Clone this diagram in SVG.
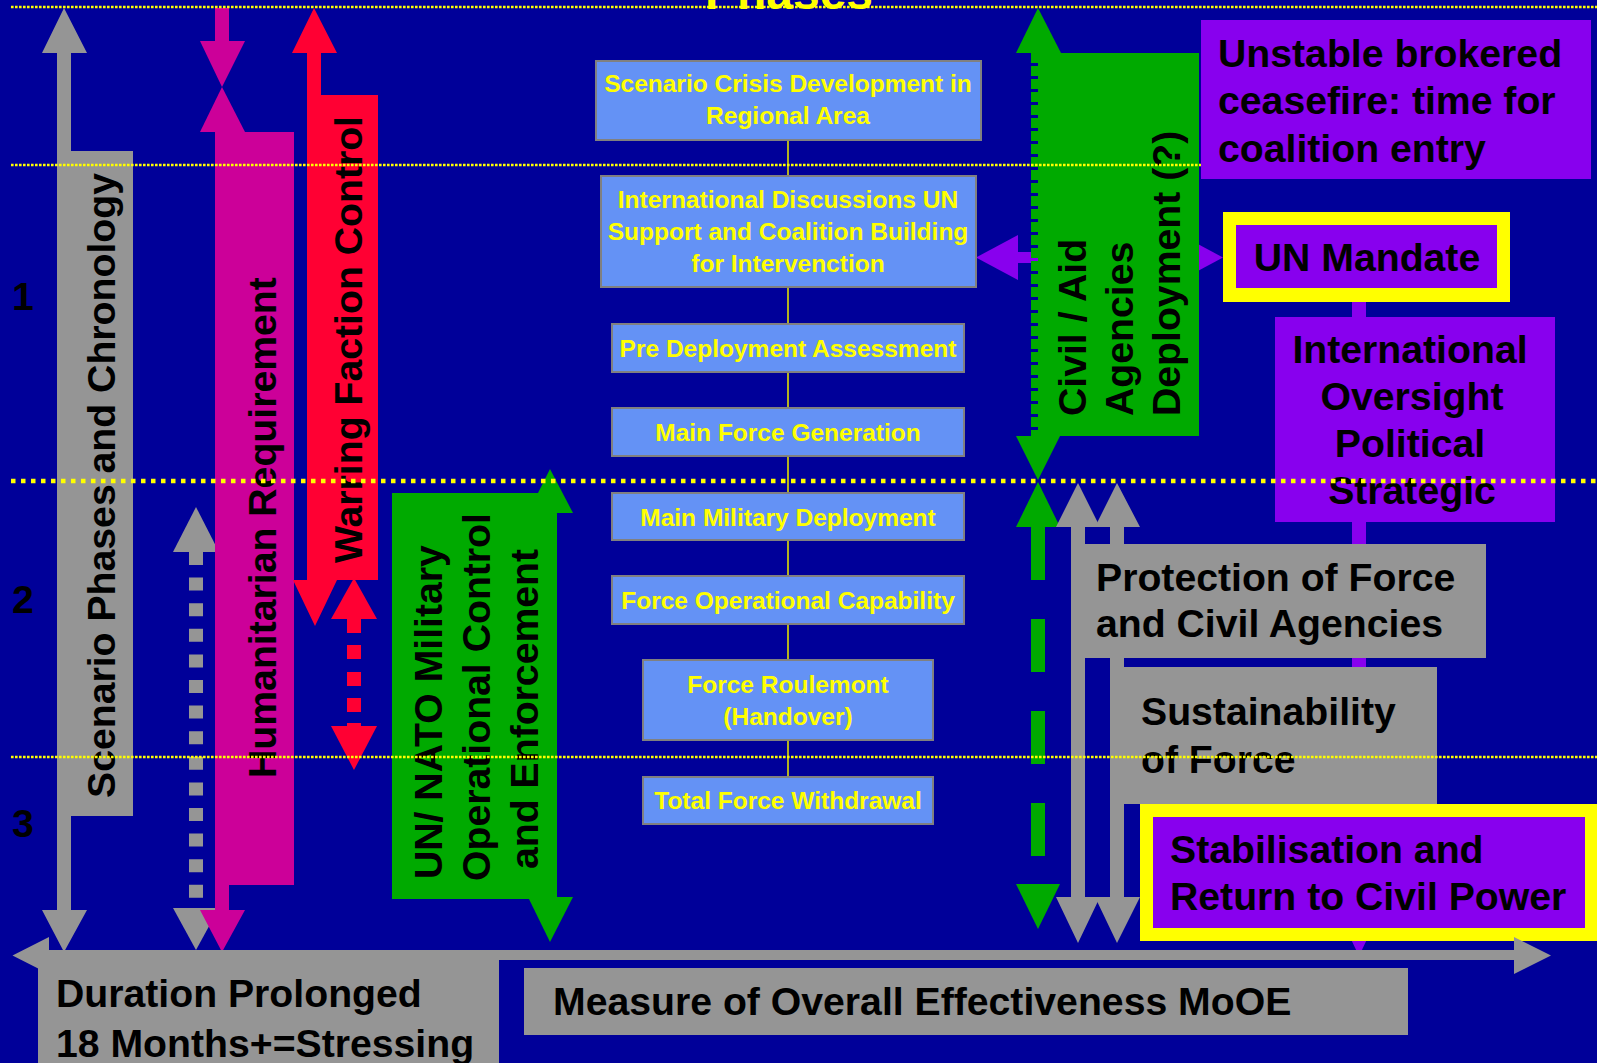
<svg xmlns="http://www.w3.org/2000/svg" width="1597" height="1063" viewBox="0 0 1597 1063">
<style>
text{font-family:"Liberation Sans",Arial,sans-serif;font-weight:bold;}
.t{font-size:39.2px;fill:#000;}
.c{font-size:24.5px;fill:#FFFF00;text-anchor:middle;}
.gray{fill:#959595;}
.mag{fill:#CC0099;}
.red{fill:#FF0033;}
.grn{fill:#00AA00;}
.pur{fill:#8800EE;}
.yel{fill:#FFFF00;}
.lb{fill:#6492F5;stroke:#808080;stroke-width:2;}
.thin{stroke:#FFFF00;stroke-width:2.6;stroke-dasharray:2.6 1.4;fill:none;}
.thick{stroke:#FFFF00;stroke-width:4.5;stroke-dasharray:4.5 5.5;fill:none;}
</style>
<rect x="0" y="0" width="1597" height="1063" fill="#000099"/>
<text x="789" y="9" style="font-size:48px;fill:#FFFF00;text-anchor:middle">Phases</text>

<g id="phase-numbers" class="t">
<text x="12" y="310">1</text>
<text x="12" y="613">2</text>
<text x="12" y="837">3</text>
</g>

<g id="scenario-phases">
<path class="gray" d="M64,8 L87,53 L71,53 L71,151 L133,151 L133,816 L71,816 L71,910 L87,910 L64,952 L42,910 L57,910 L57,53 L42,53 Z"/>
<text class="t" transform="translate(115,798) rotate(-90)">Scenario Phases and Chronology</text>
</g>

<g id="duration-span">
<polygon class="gray" points="196,507 219,552 173,552"/>
<line x1="196" y1="552" x2="196" y2="908" stroke="#959595" stroke-width="14" stroke-dasharray="13 12.6"/>
<polygon class="gray" points="173,908 219,908 196,950"/>
</g>

<g id="humanitarian">
<rect class="mag" x="215" y="8" width="14" height="33"/>
<polygon class="mag" points="200,41 245,41 222,87"/>
<polygon class="mag" points="222,87 245,132 200,132"/>
<path class="mag" d="M215,132 L294,132 L294,885 L229,885 L229,910 L245,910 L222,952 L200,910 L215,910 Z"/>
<text class="t" transform="translate(276,778) rotate(-90)">Humanitarian Requirement</text>
</g>

<g id="warring-faction">
<path class="red" d="M314,8 L337,53 L321,53 L321,95 L378,95 L378,580 L337,580 L315,626 L293,580 L307,580 L307,53 L292,53 Z"/>
<text class="t" transform="translate(362,563) rotate(-90)">Warring Faction Control</text>
</g>

<g id="warring-span">
<polygon class="red" points="354,578 377,619 331,619"/>
<rect class="red" x="347" y="619" width="14" height="14"/>
<rect class="red" x="347" y="645" width="14" height="14"/>
<rect class="red" x="347" y="672" width="14" height="14"/>
<rect class="red" x="347" y="698" width="14" height="14"/>
<rect class="red" x="347" y="723" width="14" height="4"/>
<polygon class="red" points="331,726 377,726 354,770"/>
</g>

<g id="un-nato">
<rect class="grn" x="392" y="493" width="165" height="406"/>
<polygon class="grn" points="550,469 573,513 528,513"/>
<polygon class="grn" points="528,897 573,897 550,942"/>
<text class="t" transform="translate(442,879) rotate(-90)">UN/ NATO Military</text>
<text class="t" transform="translate(490,881) rotate(-90)">Operational Control</text>
<text class="t" transform="translate(538,869) rotate(-90)">and Enforcement</text>
</g>

<g id="connectors">
<line x1="788" y1="140" x2="788" y2="777" stroke="#E0E000" stroke-width="1.6"/>
<polygon class="pur" points="976,257.5 1018,235 1018,280"/>
<rect class="pur" x="1018" y="252" width="163" height="11"/>
<polygon class="pur" points="1181,235 1223,257.5 1181,280"/>
<rect class="pur" x="1352" y="302" width="14" height="608"/>
<polygon class="pur" points="1337,910 1381,910 1359,956"/>
</g>

<g id="step-1"><rect class="lb" x="596" y="61" width="385" height="79"/>
<text class="c" x="788" y="92">Scenario Crisis Development in</text><text class="c" x="788" y="124">Regional Area</text></g>
<g id="step-2"><rect class="lb" x="601" y="176" width="375" height="111"/>
<text class="c" x="788" y="208">International Discussions UN</text><text class="c" x="788" y="240">Support and Coalition Building</text><text class="c" x="788" y="272">for Intervenction</text></g>
<g id="step-3"><rect class="lb" x="612" y="324" width="352" height="48"/>
<text class="c" x="788" y="357">Pre Deployment Assessment</text></g>
<g id="step-4"><rect class="lb" x="612" y="408" width="352" height="48"/>
<text class="c" x="788" y="441">Main Force Generation</text></g>
<g id="step-5"><rect class="lb" x="612" y="493" width="352" height="47"/>
<text class="c" x="788" y="525.5">Main Military Deployment</text></g>
<g id="step-6"><rect class="lb" x="612" y="576" width="352" height="48"/>
<text class="c" x="788" y="609">Force Operational Capability</text></g>
<g id="step-7"><rect class="lb" x="643" y="660" width="290" height="80"/>
<text class="c" x="788" y="692.5">Force Roulemont</text><text class="c" x="788" y="725">(Handover)</text></g>
<g id="step-8"><rect class="lb" x="643" y="777" width="290" height="47"/>
<text class="c" x="788" y="808.5">Total Force Withdrawal</text></g>

<g id="civil-aid">
<line x1="1038" y1="53" x2="1038" y2="436" stroke="#00AA00" stroke-width="14" stroke-dasharray="10 3"/>
<polygon class="grn" points="1038,8 1061,53 1016,53"/>
<rect class="grn" x="1038" y="53" width="161" height="383"/>
<polygon class="grn" points="1016,436 1060,436 1038,480"/>
<polygon class="grn" points="1038,482 1060,527 1016,527"/>
<rect class="grn" x="1031" y="527" width="14" height="53"/>
<rect class="grn" x="1031" y="619" width="14" height="53"/>
<rect class="grn" x="1031" y="711" width="14" height="53"/>
<rect class="grn" x="1031" y="803" width="14" height="53"/>
<polygon class="grn" points="1016,884 1060,884 1038,929"/>
<text class="t" transform="translate(1086,416) rotate(-90)">Civil / Aid</text>
<text class="t" transform="translate(1133,416) rotate(-90)">Agencies</text>
<text class="t" transform="translate(1180,416) rotate(-90)">Deployment (?)</text>
</g>

<g id="un-mandate">
<rect class="yel" x="1223" y="212" width="287" height="90"/>
<rect class="pur" x="1236" y="225" width="261" height="63"/>
<text class="t" x="1367" y="271" text-anchor="middle">UN Mandate</text>
</g>

<g id="intl-oversight">
<rect class="pur" x="1275" y="317" width="280" height="205"/>
<text class="t" x="1410" y="363" text-anchor="middle">International</text>
<text class="t" x="1412" y="410" text-anchor="middle">Oversight</text>
<text class="t" x="1410" y="457" text-anchor="middle">Political</text>
<text class="t" x="1412" y="504" text-anchor="middle">Strategic</text>
</g>

<g id="protection-arrows">
<path class="gray" d="M1078,483 L1100,527 L1085,527 L1085,897 L1100,897 L1078,943 L1056,897 L1071,897 L1071,527 L1056,527 Z"/>
<path class="gray" d="M1117,483 L1140,527 L1124,527 L1124,897 L1140,897 L1117,943 L1095,897 L1110,897 L1110,527 L1095,527 Z"/>
</g>

<g id="protection">
<rect class="gray" x="1085" y="544" width="401" height="114"/>
<text class="t" x="1096" y="591">Protection of Force</text>
<text class="t" x="1096" y="637">and Civil Agencies</text>
</g>

<g id="sustainability">
<rect class="gray" x="1110" y="667" width="327" height="137"/>
<text class="t" x="1141" y="725">Sustainability</text>
<text class="t" x="1141" y="773">of Force</text>
</g>

<g id="stabilisation">
<rect class="yel" x="1140" y="804" width="457" height="137"/>
<rect class="pur" x="1153" y="817" width="432" height="111"/>
<text class="t" x="1170" y="863">Stabilisation and</text>
<text class="t" x="1170" y="910">Return to Civil Power</text>
</g>

<g id="timeline">
<path class="gray" d="M12.5,955.5 L49,937 L49,950 L1514,950 L1514,937 L1551,955.5 L1514,974 L1514,960 L49,960 L49,974 Z"/>
</g>

<g id="duration">
<rect class="gray" x="38" y="950" width="461" height="113"/>
<text class="t" x="56" y="1007">Duration Prolonged</text>
<text class="t" x="56" y="1057">18 Months+=Stressing</text>
</g>

<g id="moe">
<rect class="gray" x="524" y="968" width="884" height="67"/>
<text class="t" x="553" y="1015">Measure of Overall Effectiveness MoOE</text>
</g>

<g id="phase-lines">
<line class="thin" x1="11" y1="7" x2="1597" y2="7"/>
<line class="thin" x1="11" y1="165" x2="1201" y2="165"/>
<line class="thick" x1="11" y1="481" x2="1597" y2="481"/>
<line class="thin" x1="11" y1="757" x2="1597" y2="757"/>
</g>

<g id="ceasefire">
<rect class="pur" x="1201" y="20" width="390" height="159"/>
<text class="t" x="1218" y="67">Unstable brokered</text>
<text class="t" x="1218" y="114">ceasefire: time for</text>
<text class="t" x="1218" y="162">coalition entry</text>
</g>
</svg>
